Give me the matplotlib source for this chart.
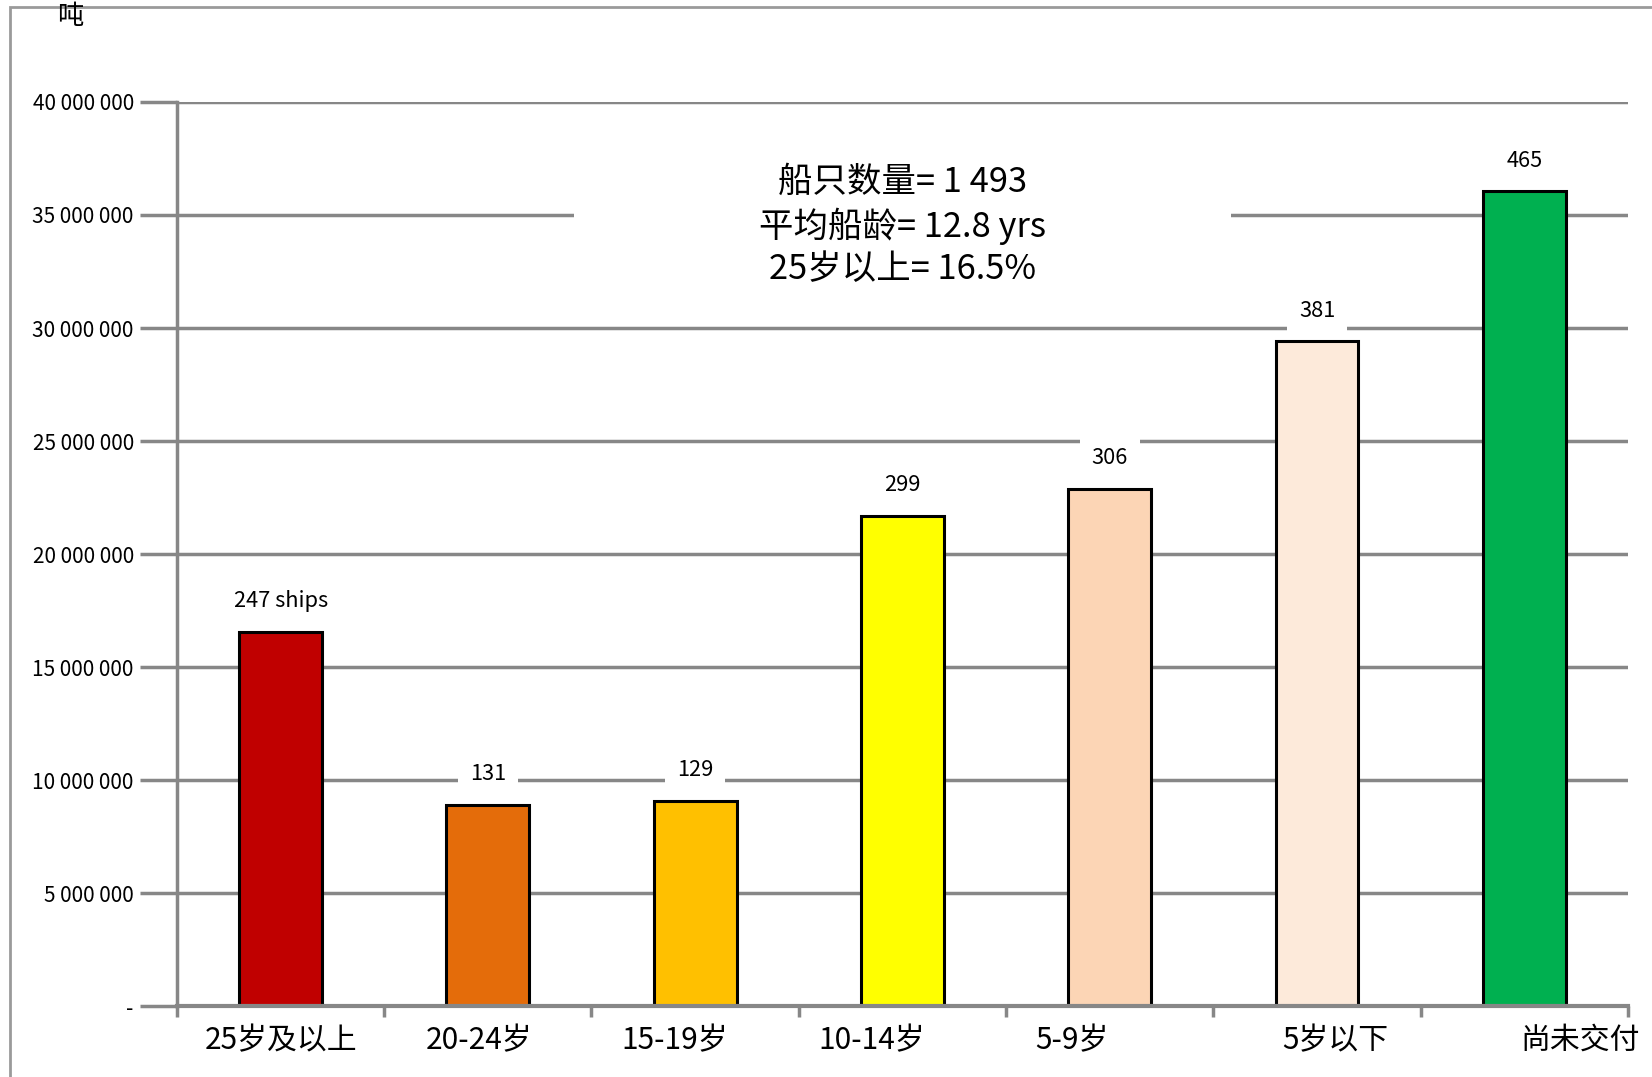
import matplotlib.pyplot as plt
from matplotlib.patches import Rectangle

plt.rcParams['font.family'] = ['Noto Sans CJK SC', 'DejaVu Sans']

# data
categories = ['25岁及以上', '20-24岁', '15-19岁', '10-14岁', '5-9岁', '5岁以下', '尚未交付']
tonnage = [16550000, 8900000, 9090000, 21680000, 22890000, 29420000, 36040000]
ship_counts = ['247 ships', '131', '129', '299', '306', '381', '465']
bar_colors = ['#C00000', '#E46C0A', '#FFC000', '#FFFF00', '#FCD5B5', '#FDEADA', '#00B050']
y_ticks = [0, 5000000, 10000000, 15000000, 20000000, 25000000, 30000000, 35000000, 40000000]
y_tick_labels = ['-', '5 000 000', '10 000 000', '15 000 000', '20 000 000',
                 '25 000 000', '30 000 000', '35 000 000', '40 000 000']
summary = '船只数量= 1 493\n平均船龄= 12.8 yrs\n25岁以上= 16.5%'
unit_label = '吨'

# category labels in the original sit a bit off-centre
label_shift = [0.0, -0.04, -0.1, -0.15, -0.18, 0.09, 0.27]

grid_col = '#878787'

fig = plt.figure(figsize=(16.52, 10.77), dpi=100)
ax = fig.add_axes([0.1071, 0.0659, 0.8783, 0.8394])

# outer chart frame
fig.patches.append(Rectangle((10 / 1652, -0.05), 1.1, 1 - 7 / 1077 + 0.05,
                             transform=fig.transFigure, fill=False,
                             edgecolor='#9a9a9a', lw=2))

x = list(range(len(categories)))
ax.bar(x, tonnage, width=0.4, color=bar_colors, edgecolor='black', lw=2.2, zorder=3)

for xi, val, txt in zip(x, tonnage, ship_counts):
    ax.annotate(txt, (xi, val), xytext=(0, 22), textcoords='offset points',
                ha='center', va='center', fontsize=15.7, zorder=5,
                bbox=dict(boxstyle='square,pad=0.55', fc='white', ec='none'))

ax.set_xlim(-0.5, 6.5)
ax.set_ylim(0, 40000000)
ax.set_yticks(y_ticks)
ax.set_yticklabels(y_tick_labels, fontsize=15)
ax.set_xticks([i - 0.5 for i in range(len(categories) + 1)])
ax.set_xticklabels([])
ax.tick_params(axis='y', direction='out', length=27, width=2.5, color=grid_col, pad=4)
ax.tick_params(axis='x', direction='out', length=8, width=2.5, color=grid_col)

for xi, lab, sh in zip(x, categories, label_shift):
    ax.text(xi + sh, -0.038, lab, transform=ax.get_xaxis_transform(),
            ha='center', va='center', fontsize=21.5)

ax.grid(axis='y', color=grid_col, lw=2.5, zorder=1)
ax.set_axisbelow(True)
for s in ['top', 'right']:
    ax.spines[s].set_visible(False)
ax.spines['left'].set_color(grid_col)
ax.spines['left'].set_linewidth(2.5)
ax.spines['bottom'].set_color(grid_col)
ax.spines['bottom'].set_linewidth(3)
ax.spines['bottom'].set_zorder(4)

# summary box in the middle of the chart
ax.add_patch(Rectangle((0.2736, 0.778), 0.4528, 0.172, transform=ax.transAxes,
                       fc='white', ec='none', zorder=2))
ax.text(0.5, 0.863, summary, transform=ax.transAxes, ha='center', va='center',
        fontsize=24.8, linespacing=1.26, zorder=3)

fig.text(70 / 1652, 1 - 17 / 1077, unit_label, ha='center', va='center', fontsize=19)

plt.savefig('out.png', dpi=100)
